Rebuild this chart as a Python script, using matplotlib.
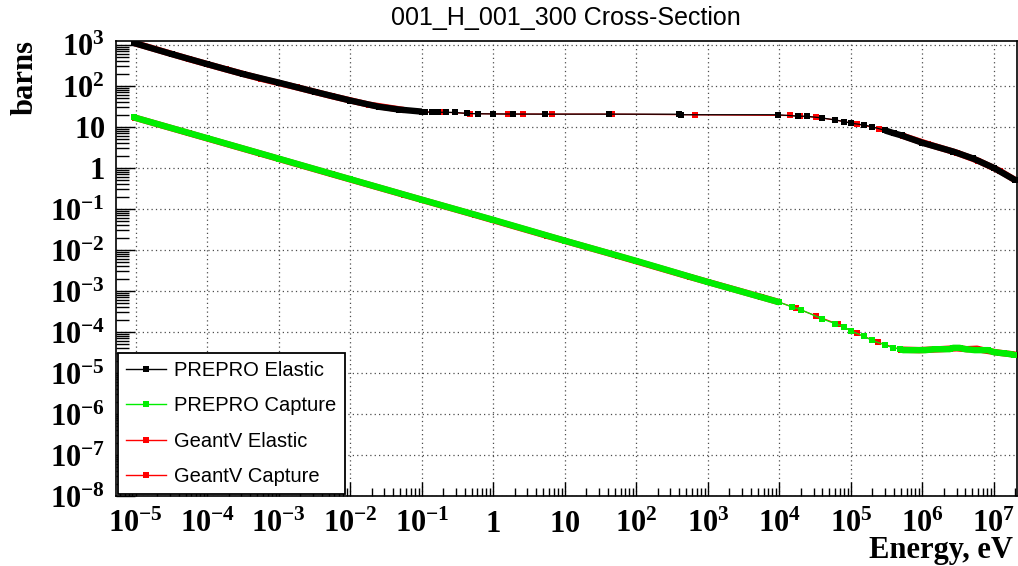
import numpy as np
import matplotlib
matplotlib.use('Agg')
import matplotlib.pyplot as plt
from matplotlib.lines import Line2D
from matplotlib.ticker import FixedLocator, LogLocator, FuncFormatter, NullFormatter

# ROOT-like bold serif numbers on the axes
plt.rcParams['mathtext.fontset'] = 'custom'
plt.rcParams['mathtext.rm'] = 'Liberation Serif:bold'
plt.rcParams['mathtext.bf'] = 'Liberation Serif:bold'
plt.rcParams['mathtext.it'] = 'Liberation Serif:bold'

title = "001_H_001_300 Cross-Section"
labels = ["PREPRO Elastic", "PREPRO Capture", "GeantV Elastic", "GeantV Capture"]

# PREPRO elastic (eV, barns)
prepro_el_e = np.array([9.3e-6, 3.16e-5, 1e-4, 3.16e-4, 1e-3, 3.16e-3, 1e-2, 2.5e-2, 4.8e-2, 0.1,
                        0.112, 0.138, 0.17, 0.22, 0.29, 0.43, 0.62, 1.0, 1.9, 5.2, 42, 400, 420,
                        9.5e3, 1.8e4, 2.4e4, 3.9e4, 6.0e4, 8.0e4, 1.0e5, 1.5e5, 1.95e5, 3.0e5,
                        4.0e5, 5.1e5, 1.0e6, 2.7e6, 5.1e6, 1.0e7, 2.0e7])
prepro_el = np.array([1120, 600, 340, 195, 120, 72, 44, 31, 26.5, 23.6,
                      23.0, 22.9, 22.8, 22.7, 22.5, 21.3, 20.9, 20.7, 20.6, 20.5, 20.5, 20.4, 19.8,
                      19.8, 18.3, 18.2, 16.6, 14.8, 13.5, 12.3, 11.2, 10.2, 8.2,
                      7.0, 6.2, 4.1, 2.5, 1.7, 1.0, 0.5])

# PREPRO capture
prepro_cap_e = np.array([9.3e-6, 1e-4, 1e-3, 1e-2, 0.1, 1.0, 10, 100, 1e3, 1e4,
                         1.5e4, 2.0e4, 3.9e4, 6.0e4, 8.0e4, 1.0e5, 1.5e5, 1.95e5, 3.0e5, 3.9e5,
                         4.9e5, 5.4e5, 1.1e6, 1.5e6, 2.4e6, 2.7e6, 3.3e6, 4.0e6, 5.4e6, 8.3e6,
                         1.0e7, 1.4e7, 1.9e7])
prepro_cap = np.array([17.2, 5.3, 1.68, 0.53, 0.168, 0.054, 0.0168, 5.4e-3, 1.65e-3, 5.3e-4,
                       4.07e-4, 3.5e-4, 2.1e-4, 1.6e-4, 1.32e-4, 1.06e-4, 7.9e-5, 6.3e-5, 4.8e-5, 4.1e-5,
                       3.8e-5, 3.6e-5, 3.6e-5, 3.8e-5, 3.8e-5, 4.1e-5, 4.1e-5, 3.8e-5, 3.6e-5, 3.6e-5,
                       3.2e-5, 3.0e-5, 2.8e-5])

# GeantV elastic
geantv_el_e = np.array([9.6e-6, 5.6e-5, 1.8e-4, 5.6e-4, 1.8e-3, 5.6e-3, 1.8e-2, 5.6e-2, 0.105,
                        0.18, 0.22, 0.47, 1.6, 2.6, 6.6, 45, 660, 1.4e4, 1.95e4, 3.2e4, 6.0e4,
                        1.2e5, 2.5e5, 5.4e5, 1.2e6, 3.0e6, 6.0e6, 1.2e7, 2.0e7])
geantv_el = np.array([1110, 450, 255, 150, 92, 56, 35, 25.8, 23.3,
                      22.8, 22.7, 21.2, 20.6, 20.6, 20.5, 20.5, 19.8, 19.0, 18.2, 17.2, 14.8,
                      11.8, 9.0, 6.0, 3.8, 2.35, 1.5, 0.85, 0.5])

# GeantV capture
geantv_cap_e = np.array([9.6e-6, 5.6e-5, 5.6e-4, 5.6e-3, 5.6e-2, 0.56, 5.6, 56, 560, 5.6e3,
                         1.0e4, 1.7e4, 3.2e4, 6.5e4, 1.2e5, 2.4e5, 5.0e5, 9.0e5, 1.8e6, 3.0e6,
                         4.2e6, 5.8e6, 7.0e6, 1.2e7, 2.0e7])
geantv_cap = np.array([16.9, 7.0, 2.22, 0.70, 0.222, 0.071, 0.0222, 7.1e-3, 2.2e-3, 7.1e-4,
                       5.3e-4, 3.8e-4, 2.5e-4, 1.55e-4, 9.2e-5, 5.6e-5, 3.7e-5, 3.6e-5, 3.8e-5, 4.0e-5,
                       3.8e-5, 3.9e-5, 3.6e-5, 3.1e-5, 2.8e-5])

# energy ranges where the points are so dense that the markers merge into a band
el_dense = [(9e-6, 0.1), (3.0e5, 2.1e7)]
cap_dense = [(9e-6, 1e4), (4.9e5, 2.1e7)]

x_decades = list(range(-5, 8))
y_decades = list(range(-8, 4))

fig = plt.figure(figsize=(10.18, 5.66), dpi=100)
ax = fig.add_axes([0.114, 0.1237, 0.885, 0.804])


def draw(e, s, color, dense, z):
    ax.plot(e, s, color=color, lw=0.9, marker='s', ms=4.4, mew=0, zorder=z)
    for lo, hi in dense:
        m = (e >= lo) & (e <= hi)
        ax.plot(e[m], s[m], color=color, lw=4.6, solid_joinstyle='round',
                solid_capstyle='butt', zorder=z)


draw(geantv_el_e, geantv_el, 'red', el_dense, 2)
draw(geantv_cap_e, geantv_cap, 'red', cap_dense, 2)
draw(prepro_el_e, prepro_el, 'black', el_dense, 3)
draw(prepro_cap_e, prepro_cap, '#00ee00', cap_dense, 3)

ax.set_xscale('log')
ax.set_yscale('log')
ax.set_xlim(5.3e-6, 2.1e7)
ax.set_ylim(1e-8, 1.25e3)


def fmt(v, pos):
    n = int(round(np.log10(v)))
    if n == 0:
        return r'$1$'
    if n == 1:
        return r'$10$'
    return r'$10^{%d}$' % n


ax.xaxis.set_major_locator(FixedLocator([10.0 ** k for k in x_decades]))
ax.yaxis.set_major_locator(FixedLocator([10.0 ** k for k in y_decades]))
ax.xaxis.set_minor_locator(LogLocator(base=10, subs=np.arange(2, 10), numticks=30))
ax.yaxis.set_minor_locator(LogLocator(base=10, subs=np.arange(2, 10), numticks=30))
ax.xaxis.set_major_formatter(FuncFormatter(fmt))
ax.yaxis.set_major_formatter(FuncFormatter(fmt))
ax.xaxis.set_minor_formatter(NullFormatter())
ax.yaxis.set_minor_formatter(NullFormatter())

ax.tick_params(axis='both', which='both', direction='in', top=False, right=False, labelsize=22)
ax.tick_params(axis='x', which='major', length=10, width=1, pad=26)
ax.tick_params(axis='x', which='minor', length=6, width=1)
ax.tick_params(axis='y', which='major', length=14, width=1, pad=8)
ax.tick_params(axis='y', which='minor', length=9, width=1)
plt.setp(ax.get_xticklabels(), va='baseline')

ax.grid(True, which='major', color='0.3', linestyle=(0, (1, 2.5)), lw=0.9)
ax.set_axisbelow(True)
for sp in ax.spines.values():
    sp.set_linewidth(1.2)

fig.text(566 / 1018, 1 - 25 / 566, title, ha='center', va='baseline',
         family='Liberation Sans', fontsize=18)
fig.text(25 / 1018, 1 - 40 / 566, 'barns', rotation=90, ha='center', va='top',
         family='Liberation Serif', weight='bold', fontsize=22)
fig.text(1013 / 1018, 1 - 558 / 566, 'Energy, eV', ha='right', va='baseline',
         family='Liberation Serif', weight='bold', fontsize=22)

handles = [Line2D([], [], color=c, lw=1, marker='s', ms=4, mew=0)
           for c in ['black', '#00ee00', 'red', 'red']]
leg = ax.legend(handles, labels, loc='lower left', bbox_to_anchor=(0.002, 0.004),
                borderaxespad=0, prop=dict(family='Liberation Sans', size=14.5),
                fancybox=False, edgecolor='black', framealpha=1, handlelength=2.0,
                handletextpad=0.4, labelspacing=0.82, borderpad=0.4)
leg.get_frame().set_linewidth(1.3)
leg.set_zorder(10)

fig.savefig('out.png', dpi=100)
